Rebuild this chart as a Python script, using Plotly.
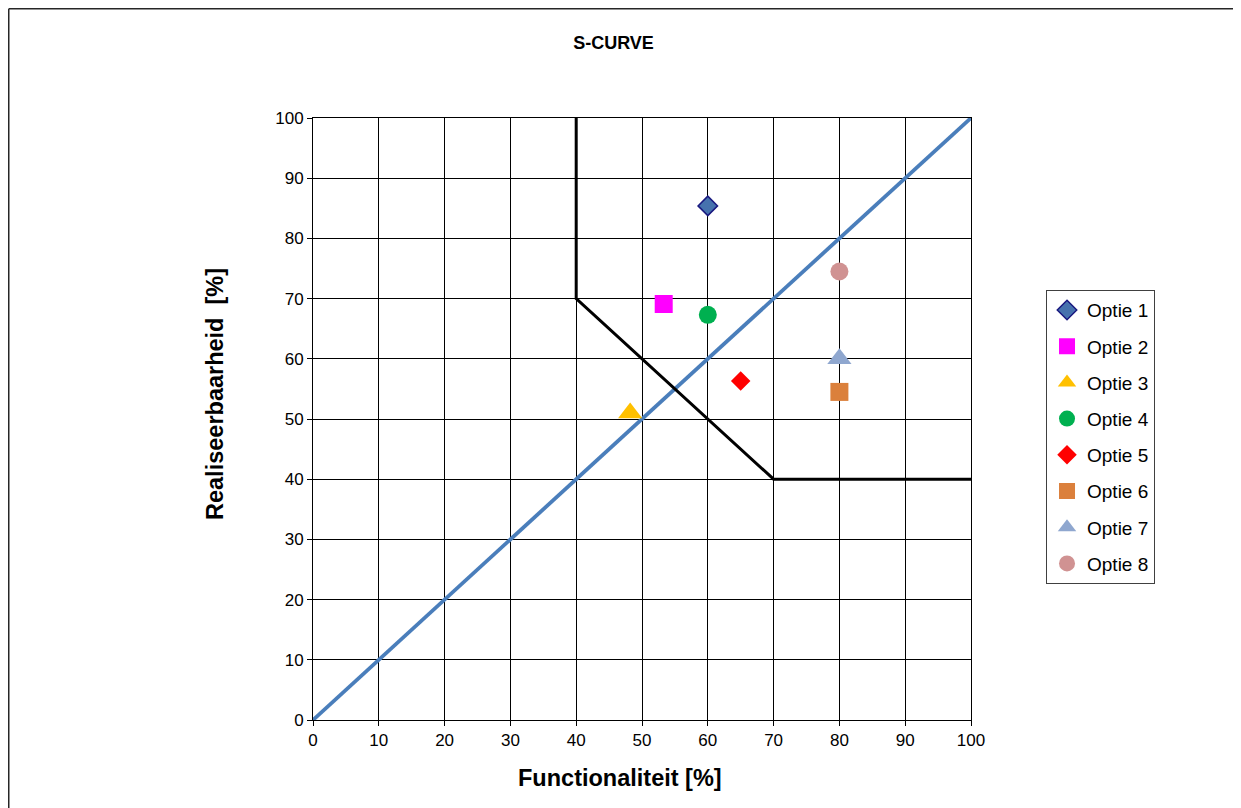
import plotly.graph_objects as go

# Data
options = ["Optie 1", "Optie 2", "Optie 3", "Optie 4", "Optie 5", "Optie 6", "Optie 7", "Optie 8"]
functionaliteit = [60, 53.3, 48.2, 60, 65, 80, 80, 80]
realiseerbaarheid = [85.4, 69.1, 51.0, 67.3, 56.3, 54.5, 60.0, 74.5]
symbols = ["diamond", "square", "triangle-up", "circle", "diamond", "square", "triangle-up", "circle"]
colors = ["#4672AE", "#FF00FF", "#FFC000", "#00B050", "#FF0000", "#DB803C", "#8FA7CF", "#D09292"]
line_colors = ["#1A1A80", "#FF00FF", "#FFC000", "#00B050", "#FF0000", "#DB803C", "#8FA7CF", "#D09292"]
sizes = [15, 18, 21, 18, 15, 18, 21, 18]

diag_x = [0, 100]
diag_y = [0, 100]
bound_x = [40, 40, 70, 100]
bound_y = [100, 70, 40, 40]

ticks = list(range(0, 101, 10))

FONT = "Arial, Liberation Sans, sans-serif"

fig = go.Figure()

fig.add_trace(go.Scatter(x=diag_x, y=diag_y, mode="lines",
                         line=dict(color="#4A7EBB", width=3.8), showlegend=False, hoverinfo="skip"))
fig.add_trace(go.Scatter(x=bound_x, y=bound_y, mode="lines",
                         line=dict(color="#000000", width=3), showlegend=False, hoverinfo="skip"))

for i, name in enumerate(options):
    fig.add_trace(go.Scatter(
        x=[functionaliteit[i]], y=[realiseerbaarheid[i]], mode="markers", name=name,
        legendgroup=name,
        marker=dict(symbol=symbols[i], color=colors[i], size=sizes[i],
                    line=dict(color=line_colors[i], width=1.5 if i == 0 else 0)),
    ))

axis_common = dict(
    range=[0, 100], tickvals=ticks, ticks="outside", ticklen=5, tickcolor="#000000",
    showgrid=True, gridcolor="#000000", gridwidth=1,
    showline=True, linecolor="#000000", linewidth=1, mirror=True,
    zeroline=False, tickfont=dict(family=FONT, size=17, color="#000000"),
    fixedrange=True,
)

fig.update_xaxes(**axis_common)
fig.update_yaxes(**axis_common)

W, H = 1233, 800
L, T, PW, PH = 305, 110, 658, 602

fig.update_layout(
    width=W, height=H,
    margin=dict(l=L, r=W - L - PW, t=T, b=H - T - PH),
    paper_bgcolor="#FFFFFF", plot_bgcolor="#FFFFFF",
    title=dict(text="<b>S-CURVE</b>", x=605.5 / W, xanchor="center", y=1 - 35 / H, yanchor="middle",
               font=dict(family=FONT, size=18, color="#000000")),
    legend=dict(x=1.114, y=0.714, xanchor="left", yanchor="top",
                bordercolor="#404040", borderwidth=1, bgcolor="#FFFFFF",
                font=dict(family=FONT, size=19, color="#000000"),
                itemwidth=30, tracegroupgap=8.5, itemsizing="trace"),
    showlegend=True,
    annotations=[
        dict(text="<b>Functionaliteit [%]</b>", xref="paper", yref="paper",
             x=(620 - 313) / PW, y=(720 - 778) / PH, xanchor="center", yanchor="middle",
             showarrow=False, font=dict(family=FONT, size=23.5, color="#000000")),
        dict(text="<b>Realiseerbaarheid  [%]</b>", xref="paper", yref="paper",
             x=(215 - 313) / PW, y=(720 - 394) / PH, xanchor="center", yanchor="middle",
             textangle=-90, showarrow=False, font=dict(family=FONT, size=23.5, color="#000000")),
    ],
    shapes=[
        dict(type="line", xref="paper", yref="paper", x0=(0.75 - L) / PW, x1=2.0,
             y0=(T + PH - 0.75) / PH, y1=(T + PH - 0.75) / PH, line=dict(color="#262626", width=1.5)),
        dict(type="line", xref="paper", yref="paper", x0=(0.75 - L) / PW, x1=(0.75 - L) / PW,
             y0=(T + PH - 0.75) / PH, y1=-0.5, line=dict(color="#262626", width=1.5)),
    ],
)

fig.write_html("out.html")
